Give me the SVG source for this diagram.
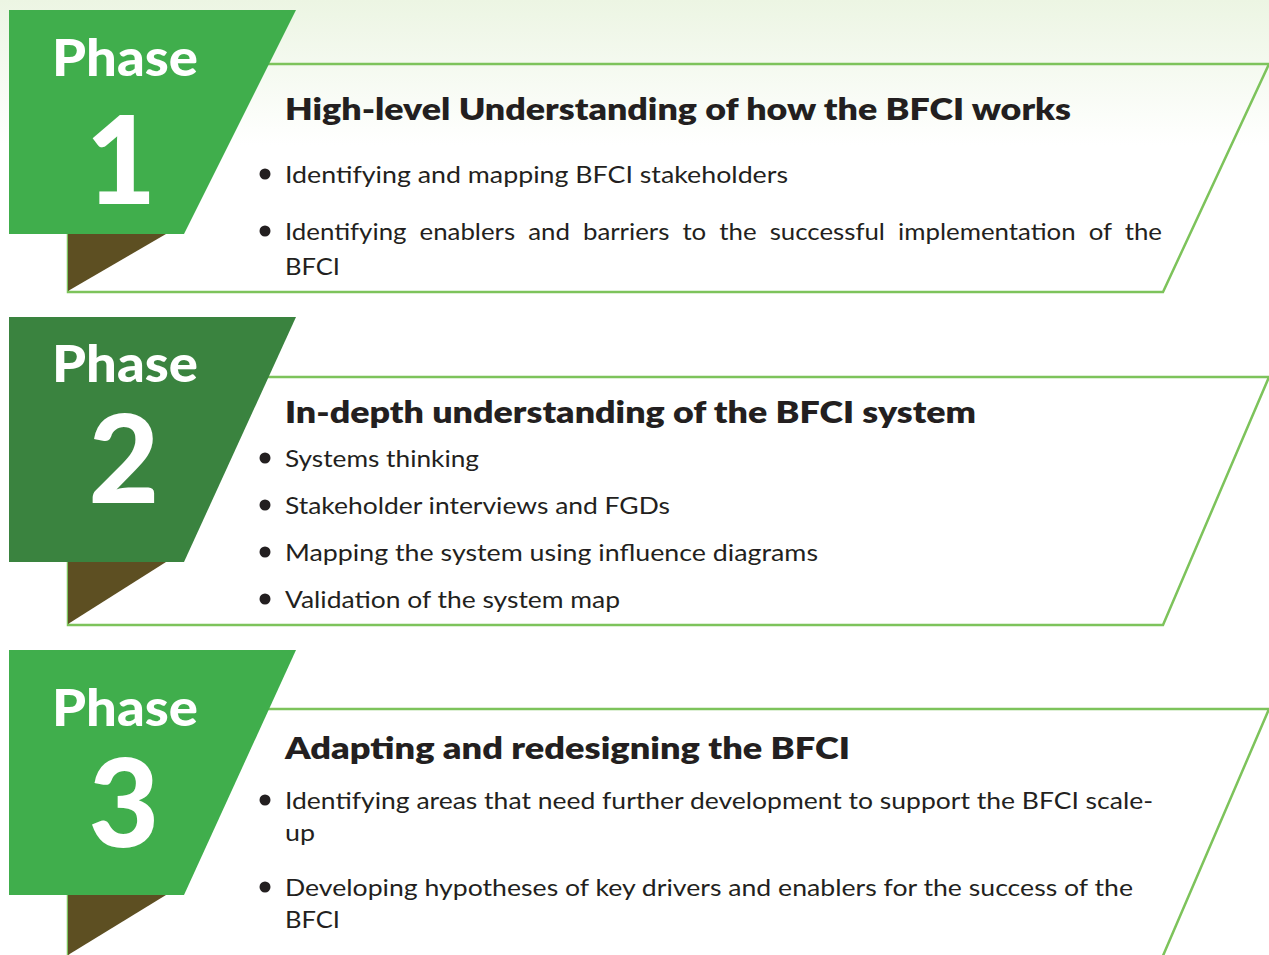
<svg xmlns="http://www.w3.org/2000/svg" width="1269" height="955" viewBox="0 0 1269 955">
<defs>
<linearGradient id="bg" x1="0" y1="0" x2="0" y2="1">
<stop offset="0" stop-color="#ecf5e3"/>
<stop offset="1" stop-color="#ffffff"/>
</linearGradient>
<style>
.box{fill:none;stroke:#7dc35b;stroke-width:2.5}
.tab1{fill:#40ae4c}
.tab2{fill:#3a833f}
.fold{fill:#5d4f22}
.ph{font-family:Lato,"Liberation Sans",sans-serif;font-weight:900;fill:#ffffff;text-anchor:middle}
.phw{font-size:52px}
.num{font-size:122px}
.hd{font-family:Lato,"Liberation Sans",sans-serif;font-weight:800;font-size:30px;fill:#231f20}
.tx{font-family:Lato,"Liberation Sans",sans-serif;font-size:24px;fill:#231f20}
.bl{fill:#231f20}
</style>
</defs>
<rect x="0" y="0" width="1269" height="955" fill="#ffffff"/>
<rect x="0" y="0" width="1269" height="145" fill="url(#bg)"/>
<g id="connectors"/>
<g id="phase1">
<polygon class="box" points="68,64 1269,64 1163,292 68,292"/>
<polygon class="fold" points="68,234 166,234 68,291"/>
<polygon class="tab1" points="9,10 296,10 184,234 9,234"/>
<text class="ph phw" x="125" y="76" textLength="146" lengthAdjust="spacingAndGlyphs">Phase</text>
<text class="ph num" x="121" y="204">1</text>
<text class="hd" x="285" y="120" textLength="786" lengthAdjust="spacingAndGlyphs">High-level Understanding of how the BFCI works</text>
<circle class="bl" cx="265" cy="174" r="5.5"/>
<text class="tx" x="285" y="183" textLength="503" lengthAdjust="spacingAndGlyphs">Identifying and mapping BFCI stakeholders</text>
<circle class="bl" cx="265" cy="231" r="5.5"/>
<text class="tx" x="285" y="240" word-spacing="6" textLength="877" lengthAdjust="spacingAndGlyphs">Identifying enablers and barriers to the successful implementation of the</text>
<text class="tx" x="285" y="275" textLength="55" lengthAdjust="spacingAndGlyphs">BFCI</text>
</g>
<g id="phase2">
<polygon class="box" points="68,377 1269,377 1163,625 68,625"/>
<polygon class="fold" points="68,562 166,562 68,624"/>
<polygon class="tab2" points="9,317 296,317 184,562 9,562"/>
<text class="ph phw" x="125" y="382" textLength="146" lengthAdjust="spacingAndGlyphs">Phase</text>
<text class="ph num" x="124" y="503">2</text>
<text class="hd" x="285" y="423" textLength="691" lengthAdjust="spacingAndGlyphs">In-depth understanding of the BFCI system</text>
<circle class="bl" cx="265" cy="458" r="5.5"/>
<text class="tx" x="285" y="467" textLength="194" lengthAdjust="spacingAndGlyphs">Systems thinking</text>
<circle class="bl" cx="265" cy="505" r="5.5"/>
<text class="tx" x="285" y="514" textLength="385" lengthAdjust="spacingAndGlyphs">Stakeholder interviews and FGDs</text>
<circle class="bl" cx="265" cy="552" r="5.5"/>
<text class="tx" x="285" y="561" textLength="533" lengthAdjust="spacingAndGlyphs">Mapping the system using influence diagrams</text>
<circle class="bl" cx="265" cy="599" r="5.5"/>
<text class="tx" x="285" y="608" textLength="335" lengthAdjust="spacingAndGlyphs">Validation of the system map</text>
</g>
<g id="phase3">
<polygon class="box" points="68,709 1269,709 1156,972 68,972"/>
<polygon class="fold" points="68,895 166,895 68,955"/>
<polygon class="tab1" points="9,650 296,650 184,895 9,895"/>
<text class="ph phw" x="125" y="726" textLength="146" lengthAdjust="spacingAndGlyphs">Phase</text>
<text class="ph num" x="124" y="847">3</text>
<text class="hd" x="285" y="759" textLength="565" lengthAdjust="spacingAndGlyphs">Adapting and redesigning the BFCI</text>
<circle class="bl" cx="265" cy="800" r="5.5"/>
<text class="tx" x="285" y="809" textLength="868" lengthAdjust="spacingAndGlyphs">Identifying areas that need further development to support the BFCI scale-</text>
<text class="tx" x="285" y="841" textLength="30" lengthAdjust="spacingAndGlyphs">up</text>
<circle class="bl" cx="265" cy="887" r="5.5"/>
<text class="tx" x="285" y="896" textLength="848" lengthAdjust="spacingAndGlyphs">Developing hypotheses of key drivers and enablers for the success of the</text>
<text class="tx" x="285" y="928" textLength="55" lengthAdjust="spacingAndGlyphs">BFCI</text>
</g>
</svg>
